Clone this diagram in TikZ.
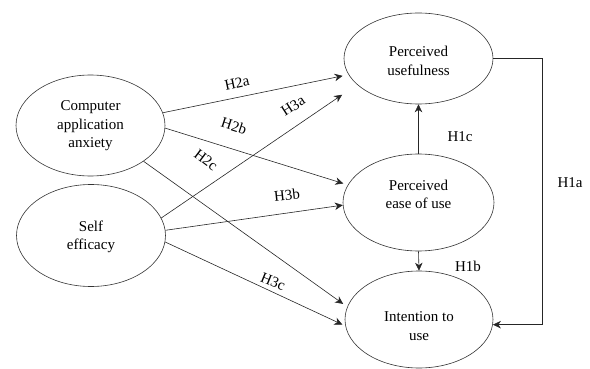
\documentclass[tikz,border=0pt]{standalone}
\usepackage{fontspec}
\setmainfont{Liberation Serif}
\usetikzlibrary{shapes.geometric,arrows.meta}
\begin{document}
\begin{tikzpicture}[x=1pt,y=-1pt,
  oval/.style={draw=black!80,line width=0.6pt,ellipse,inner sep=0pt},
  ovaltext/.style={align=center,inner sep=0pt,font=\fontsize{15}{18.5}\selectfont},
  link/.style={draw=black!85,line width=0.6pt,-{Stealth[length=8pt,width=7.5pt,inset=2.5pt]}},
  plain/.style={draw=black!85,line width=0.6pt},
  hyp/.style={inner sep=0pt,font=\fontsize{15}{17}\selectfont}]
\useasboundingbox (0,0) rectangle (590,369);
% constructs
\node[oval,minimum width=149pt,minimum height=101pt,
  label={[ovaltext,yshift=-0.5pt]center:{Computer\\application\\anxiety}}] (caa) at (90.5,125.5) {};
\node[oval,minimum width=149pt,minimum height=102pt,
  label={[ovaltext,yshift=-1.5pt]center:{Self\\efficacy}}] (se) at (91,235.5) {};
\node[oval,minimum width=149pt,minimum height=91pt,
  label={[ovaltext,yshift=-2.5pt]center:{Perceived\\usefulness}}] (pu) at (418.5,58.5) {};
\node[oval,minimum width=151pt,minimum height=97pt,
  label={[ovaltext,yshift=8pt]center:{Perceived\\ease of use}}] (peou) at (418.5,202.5) {};
\node[oval,minimum width=148pt,minimum height=97pt,
  label={[ovaltext,yshift=-6.5pt]center:{Intention to\\use}}] (itu) at (419,319.5) {};
% connectors
\draw[link,shorten >=6pt] (caa.10.6) -- (pu.193.4);
\draw[link,shorten >=4.7pt] (caa.-2.8) -- (peou.166.9);
\draw[link,shorten >=5pt] (caa.-34.8) -- (itu.170.9);
\draw[link,shorten >=18pt] (se.14.9) -- (pu.203.5);
\draw[link] (se.4.3) -- (peou.182.3);
\draw[link,shorten >=3.3pt] (se.-5.3) -- (itu.185.9);
\draw[link] (peou.north) -- (pu.south);
\draw[link] (peou.south) -- (itu.north);
\coordinate (bend) at (542,58.5);
\draw[plain] (pu.east) -- (bend);
\draw[link] (bend) |- (itu.-4.3);
% hypothesis labels
\node[hyp,rotate=12] (h2a) at (237,83) {H2a};
\node[hyp,rotate=33] (h3a) at (293,106) {H3a};
\node[hyp,rotate=-18] (h2b) at (234,126) {H2b};
\node[hyp,rotate=-37] (h2c) at (206,160) {H2c};
\node[hyp,rotate=6] (h3b) at (287,195) {H3b};
\node[hyp,rotate=-22] (h3c) at (273,282) {H3c};
\node[hyp] (h1c) at (460,137) {H1c};
\node[hyp] (h1b) at (468,266) {H1b};
\node[hyp] (h1a) at (570,183) {H1a};
\end{tikzpicture}
\end{document}
